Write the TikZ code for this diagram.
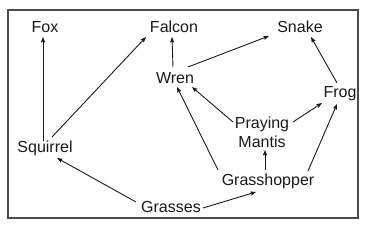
\documentclass[tikz,border=0pt]{standalone}
\usepackage{fontspec}
\setmainfont{Liberation Sans}
\usetikzlibrary{arrows.meta}
\begin{document}
\begin{tikzpicture}[x=1pt,y=-1pt,
  lbl/.style={inner sep=0pt,font=\fontsize{16}{19}\selectfont,text=black!90,align=center},
  arr/.style={-{Stealth[length=5.5pt,width=4.2pt,inset=1pt]},line width=0.9pt,black!90}]
\useasboundingbox (0,0) rectangle (373,237);
\draw[line width=1.6pt,black!70] (8,10) rectangle (358,218);
\node[lbl] (fox) at (45,27) {Fox};
\node[lbl] (falcon) at (174,27) {Falcon};
\node[lbl] (snake) at (300,27) {Snake};
\node[lbl] (wren) at (175,78) {Wren};
\node[lbl] (frog) at (340,94) {Frog};
\node[lbl] (mantis) at (262,132) {Praying\\Mantis};
\node[lbl] (grasshopper) at (268,181) {Grasshopper};
\node[lbl] (grasses) at (171,207) {Grasses};
\node[lbl] (squirrel) at (45,148) {Squirrel};
\draw[arr] ([shift={(-2,-7)}]squirrel.center) -- ([shift={(-2,10)}]fox.center);
\draw[arr] ([shift={(7,-11)}]squirrel.center) -- ([shift={(-28,10)}]falcon.center);
\draw[arr] ([shift={(-35,-5)}]grasses.center) -- ([shift={(12,10)}]squirrel.center);
\draw[arr] ([shift={(32,1)}]grasses.center) -- ([shift={(-12,11)}]grasshopper.center);
\draw[arr] ([shift={(-3,-11)}]grasshopper.center) -- ([shift={(3,18)}]mantis.center);
\draw[arr] ([shift={(-50,-11)}]grasshopper.center) -- ([shift={(2,9)}]wren.center);
\draw[arr] ([shift={(40,-10)}]grasshopper.center) -- ([shift={(-3,10)}]frog.center);
\draw[arr] ([shift={(-29,-10)}]mantis.center) -- ([shift={(17,9)}]wren.center);
\draw[arr] ([shift={(31,-10)}]mantis.center) -- ([shift={(-18,9)}]frog.center);
\draw[arr] ([shift={(-2,-11)}]wren.center) -- ([shift={(-2,10)}]falcon.center);
\draw[arr] ([shift={(13,-11)}]wren.center) -- ([shift={(-31,9)}]snake.center);
\draw[arr] ([shift={(-3,-11)}]frog.center) -- ([shift={(11,10)}]snake.center);
\end{tikzpicture}
\end{document}
